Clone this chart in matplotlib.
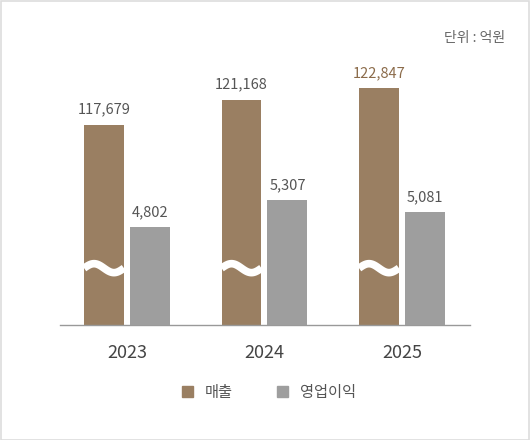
import numpy as np
import matplotlib.pyplot as plt
from matplotlib.patches import Rectangle, Patch
import matplotlib.transforms as mtransforms

plt.rcParams['font.family'] = ['Noto Sans CJK KR', 'DejaVu Sans']

years = ['2023', '2024', '2025']
sales = [117679, 121168, 122847]
profit = [4802, 5307, 5081]

brown = '#9a7f62'
grey = '#9e9e9e'

fig = plt.figure(figsize=(5.3, 4.4), dpi=100)
fig.patch.set_facecolor('white')

# outer frame
fig.patches.append(Rectangle((0.001, 0.001), 0.997, 0.997, transform=fig.transFigure,
                             fill=False, edgecolor='#dddddd', linewidth=1.2))

ax = fig.add_axes([60 / 530, 115 / 440, 410 / 530, 280 / 440])
ax2 = ax.twinx()

x = np.arange(len(years))
w = 0.29
off = 0.167

# broken scales (bars don't start at zero)
ax.set_ylim(89175, 129004)
ax2.set_ylim(2952, 8245)
ax.set_xlim(-0.487, 2.495)

ax.bar(x - off, sales, w, color=brown, zorder=2)
ax2.bar(x + off, profit, w, color=grey, zorder=2)

for i, v in enumerate(sales):
    c = '#8b6b4a' if i == len(sales) - 1 else '#555555'
    ax.annotate(f'{v:,}', (x[i] - off, v), xytext=(0, 6), textcoords='offset points',
                ha='center', va='bottom', fontsize=10.5, color=c)
for i, v in enumerate(profit):
    ax2.annotate(f'{v:,}', (x[i] + off, v), xytext=(0, 6), textcoords='offset points',
                 ha='center', va='bottom', fontsize=10.5, color='#555555')

# wavy break marks on sales bars
trans = mtransforms.blended_transform_factory(ax.transData, ax.transAxes)
t = np.linspace(0, 1, 60)
for xi in x:
    xs = xi - off - w / 2 + t * w
    ys = 0.203 + 0.016 * np.sin(2 * np.pi * t)
    ax.plot(xs, ys, color='white', linewidth=5.5, transform=trans, zorder=3,
            solid_capstyle='butt')

for a in (ax, ax2):
    for s in ['top', 'left', 'right']:
        a.spines[s].set_visible(False)
    a.tick_params(left=False, right=False, labelleft=False, labelright=False)
ax2.spines['bottom'].set_visible(False)
ax.spines['bottom'].set_color('#999999')
ax.spines['bottom'].set_linewidth(1)

ax.set_xticks(x)
ax.set_xticklabels(years, fontsize=13, color='#444444')
ax.tick_params(axis='x', length=0, pad=14)

fig.text(0.953, 0.913, '단위 : 억원', ha='right', va='center', fontsize=10, color='#666666')

handles = [Patch(color=brown, label='매출'), Patch(color=grey, label='영업이익')]
leg = fig.legend(handles=handles, loc='center', bbox_to_anchor=(0.508, 48 / 440), ncol=2,
                 frameon=False, handlelength=0.7, handleheight=0.7, handletextpad=0.8,
                 columnspacing=2.9, fontsize=11)
for txt in leg.get_texts():
    txt.set_color('#555555')

fig.savefig('out.png', dpi=100)
